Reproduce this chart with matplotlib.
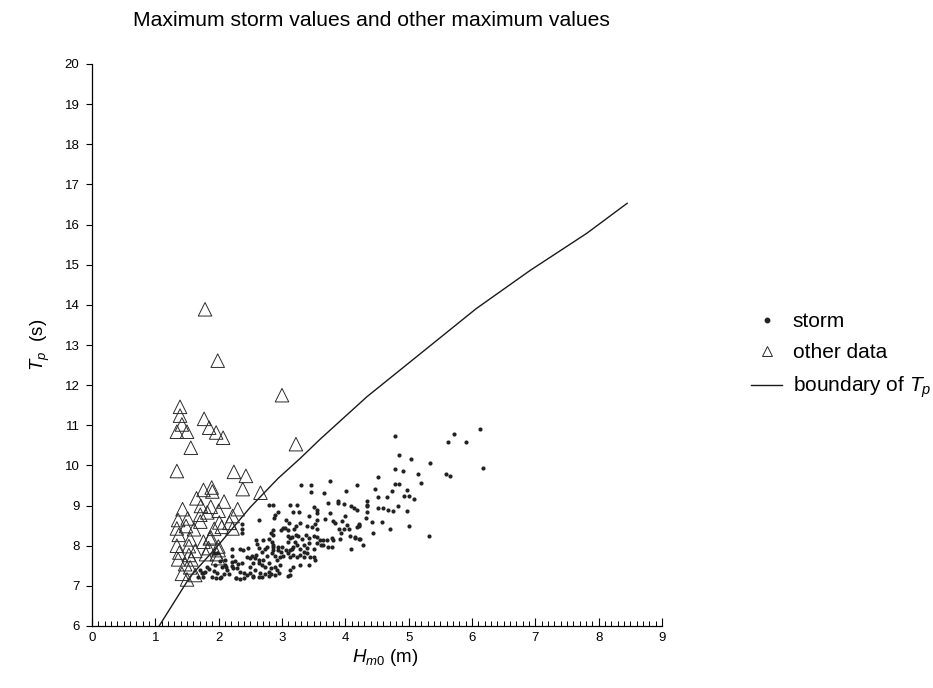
import matplotlib
matplotlib.use("Agg")
import matplotlib.pyplot as plt
from matplotlib.lines import Line2D
from matplotlib.ticker import MultipleLocator

plt.rcParams['font.family'] = ['Liberation Sans', 'DejaVu Sans']
plt.rcParams['mathtext.fontset'] = 'custom'
plt.rcParams['mathtext.it'] = 'Liberation Sans:italic'
plt.rcParams['mathtext.rm'] = 'Liberation Sans'

# storm maxima: significant wave height Hm0 (m) and peak period Tp (s)
storm_hm0 = [
    4.79, 5.71, 5.62, 5.90, 6.13, 6.17, 4.85, 5.03, 5.34, 5.59, 5.66, 4.79, 4.91, 5.14, 5.20,
    4.52, 4.18, 3.76, 3.30, 3.46, 3.46, 3.665, 4.79, 4.84, 4.47, 4.01, 4.73, 4.97, 4.92, 5.00,
    5.09, 4.65, 4.51, 4.34, 3.88, 3.72, 3.88, 3.98, 4.09, 4.13, 4.18, 4.34, 4.51, 4.59, 4.67,
    4.76, 4.83, 4.97, 4.34, 3.50, 3.55, 3.56, 2.80, 2.86, 2.93, 2.89, 2.88, 3.13, 3.24, 3.18,
    3.27, 3.42, 3.76, 3.68, 3.81, 3.84, 3.94, 4.00, 4.03, 3.98, 4.06, 3.90, 3.93, 4.22, 4.18,
    4.33, 4.42, 4.58, 4.71, 4.44, 5.00, 5.32, 2.63, 2.37, 2.37, 2.37, 2.82, 2.99, 3.05, 3.09,
    3.19, 3.29, 3.22, 3.39, 3.52, 3.55, 3.09, 3.15, 3.22, 3.26, 3.38, 3.42, 3.50, 3.55, 3.60,
    3.65, 3.71, 3.79, 3.81, 3.92, 4.08, 4.15, 4.23, 4.28, 4.09, 3.65, 3.73, 3.79, 3.55, 3.61,
    3.43, 3.40, 3.50, 3.31, 3.34, 3.29, 3.34, 3.20, 3.23, 3.18, 3.15, 3.12, 3.06, 3.09, 3.13,
    2.93, 2.93, 2.86, 2.86, 3.00, 2.99, 2.76, 2.84, 2.79, 2.59, 2.60, 2.70, 2.21, 2.33, 2.39,
    2.47, 2.63, 2.73, 2.59, 2.68, 2.76, 2.84, 2.89, 2.92, 2.97, 3.02, 3.09, 3.12, 3.18, 3.24,
    3.29, 3.34, 3.39, 3.44, 3.51, 3.52, 3.42, 3.29, 3.18, 3.12, 3.13, 3.09, 2.97, 2.89, 2.92,
    2.96, 2.89, 2.83, 2.79, 2.82, 2.73, 2.68, 2.63, 2.55, 2.50, 2.52, 2.44, 2.58, 2.63, 2.70,
    2.50, 2.58, 2.65, 2.73, 2.80, 2.63, 2.68, 2.55, 2.34, 2.27, 2.34, 2.44, 2.23, 2.31, 2.26,
    2.21, 2.10, 2.02, 2.05, 2.10, 2.21, 1.94, 1.92, 1.97, 1.84, 1.76, 1.89, 1.96, 2.03, 2.09,
    2.17, 2.13, 1.93, 1.97, 1.785, 1.73, 1.71, 2.28, 2.40, 2.49, 2.54, 2.79, 4.22, 4.21, 4.15,
    4.22, 4.35, 3.07, 3.55, 3.47, 2.86, 2.86, 2.86, 2.21, 2.12, 2.29, 2.37, 2.40, 1.81, 1.68,
    1.75, 2.02, 3.02, 3.11,
]
storm_tp = [
    10.74, 10.78, 10.59, 10.59, 10.90, 9.93, 10.27, 10.16, 10.07, 9.79, 9.74, 9.90, 9.85, 9.79, 9.57,
    9.70, 9.51, 9.61, 9.52, 9.52, 9.34, 9.31, 9.54, 9.54, 9.41, 9.36, 9.37, 9.39, 9.24, 9.24,
    9.16, 9.22, 9.21, 9.12, 9.12, 9.07, 9.06, 9.04, 9.00, 8.95, 8.89, 9.01, 8.93, 8.95, 8.89,
    8.87, 8.99, 8.87, 8.85, 8.97, 8.89, 8.81, 9.01, 9.01, 8.85, 8.77, 8.68, 9.01, 9.01, 8.85,
    8.83, 8.75, 8.81, 8.67, 8.62, 8.56, 8.62, 8.75, 8.52, 8.42, 8.42, 8.42, 8.31, 8.52, 8.46,
    8.70, 8.60, 8.60, 8.41, 8.32, 8.49, 8.24, 8.64, 8.54, 8.41, 8.31, 8.31, 8.39, 8.43, 8.38,
    8.41, 8.56, 8.49, 8.48, 8.54, 8.42, 8.24, 8.21, 8.27, 8.24, 8.27, 8.18, 8.24, 8.21, 8.14,
    8.13, 8.14, 8.18, 8.13, 8.16, 8.24, 8.18, 8.16, 8.02, 7.91, 8.02, 7.98, 7.98, 8.06, 8.02,
    8.06, 7.94, 7.91, 8.16, 8.02, 7.91, 7.85, 8.10, 8.02, 7.98, 7.91, 7.89, 7.89, 8.10, 8.18,
    7.98, 7.89, 7.98, 7.89, 7.96, 7.85, 7.98, 8.10, 8.16, 8.13, 8.04, 8.14, 7.92, 7.92, 7.89,
    7.95, 7.94, 7.91, 7.77, 7.85, 7.74, 7.81, 7.74, 7.64, 7.71, 7.74, 7.81, 7.73, 7.77, 7.71,
    7.77, 7.73, 7.81, 7.71, 7.73, 7.64, 7.52, 7.52, 7.48, 7.40, 7.27, 7.25, 7.52, 7.48, 7.40,
    7.33, 7.27, 7.30, 7.56, 7.44, 7.48, 7.52, 7.56, 7.56, 7.69, 7.74, 7.71, 7.70, 7.64, 7.64,
    7.46, 7.40, 7.33, 7.30, 7.35, 7.21, 7.21, 7.23, 7.35, 7.19, 7.16, 7.27, 7.44, 7.54, 7.63,
    7.60, 7.64, 7.63, 7.48, 7.52, 7.49, 7.52, 7.38, 7.33, 7.41, 7.33, 7.21, 7.19, 7.23, 7.30,
    7.30, 7.40, 7.82, 7.83, 7.35, 7.31, 7.40, 7.19, 7.19, 7.31, 7.25, 7.25, 8.54, 8.49, 8.21,
    8.16, 8.99, 8.64, 8.64, 8.47, 8.39, 8.27, 8.02, 7.74, 7.46, 7.44, 7.56, 7.31, 7.48, 7.23,
    7.23, 7.19, 8.43, 8.56,
]

# other maxima
other_hm0 = [
    1.785, 1.985, 3.00, 1.39, 1.39, 1.42, 1.34, 1.50, 1.77, 1.85, 1.96, 2.07, 1.56, 3.22, 1.34,
    2.24, 2.43, 2.38, 2.66, 1.76, 1.89, 1.90, 1.65, 1.72, 1.43, 1.875, 2.085, 2.00, 2.30, 1.82,
    1.71, 2.22, 1.51, 1.36, 1.71, 2.01, 2.17, 1.485, 1.34, 1.61, 1.93, 2.05, 2.22, 1.37, 1.55,
    1.76, 1.86, 1.34, 1.53, 1.995, 1.84, 1.38, 1.63, 1.53, 1.80, 1.97, 1.36, 1.57, 1.47, 1.55,
    1.42, 1.63, 1.50, 1.875, 2.00, 1.99,
]
other_tp = [
    13.89, 12.61, 11.75, 11.46, 11.24, 11.02, 10.84, 10.84, 11.16, 10.94, 10.82, 10.69, 10.44, 10.53, 9.86,
    9.84, 9.74, 9.41, 9.32, 9.39, 9.45, 9.35, 9.18, 8.99, 8.91, 8.97, 9.10, 8.87, 8.91, 8.83,
    8.77, 8.74, 8.68, 8.64, 8.60, 8.58, 8.57, 8.49, 8.43, 8.41, 8.42, 8.47, 8.43, 8.27, 8.16,
    8.10, 8.18, 8.00, 7.99, 7.98, 7.94, 7.83, 7.87, 7.77, 7.79, 7.79, 7.66, 7.66, 7.54, 7.46,
    7.30, 7.27, 7.16, 8.21, 7.89, 7.69,
]

# boundary of Tp
boundary_hm0 = [1.06, 1.55, 2.02, 2.50, 2.94, 3.29, 3.60, 4.34, 5.26, 6.07, 6.92, 7.81, 8.45]
boundary_tp = [6.00, 7.23, 8.06, 8.96, 9.68, 10.18, 10.65, 11.71, 12.88, 13.91, 14.86, 15.78, 16.53]

x_ticks = list(range(0, 10))
y_ticks = list(range(6, 21))

fig = plt.figure(figsize=(9.33, 6.88), dpi=100)
ax = fig.add_axes([92 / 933, 1 - 626 / 688, (662 - 92) / 933, (626 - 64) / 688])

ax.plot(boundary_hm0, boundary_tp, color='#1a1a1a', lw=1.0, zorder=2)
ax.scatter(other_hm0, other_tp, marker='^', s=95, facecolors='none',
           edgecolors='#2b2b2b', linewidths=0.7, zorder=3)
ax.scatter(storm_hm0, storm_tp, marker='o', s=9, color='#222222', linewidths=0, zorder=4)

ax.set_xlim(0, 9)
ax.set_ylim(6, 20)
ax.set_xticks(x_ticks)
ax.set_yticks(y_ticks)
ax.xaxis.set_minor_locator(MultipleLocator(0.1))
ax.tick_params(axis='x', which='major', direction='in', length=6, width=0.8, labelsize=9.5, pad=4)
ax.tick_params(axis='x', which='minor', direction='in', length=3.5, width=0.7)
ax.tick_params(axis='y', which='major', direction='out', length=4, width=0.8, labelsize=9.5, pad=5)
for side in ('top', 'right'):
    ax.spines[side].set_visible(False)
for side in ('left', 'bottom'):
    ax.spines[side].set_linewidth(0.9)

fig.text(371 / 933, 1 - 20 / 688, 'Maximum storm values and other maximum values',
         ha='center', va='center', fontsize=15.2)
fig.text(385 / 933, 1 - 657 / 688, r'$H_{m0}$ (m)', ha='center', va='center', fontsize=13.5)
fig.text(40 / 933, 1 - 345 / 688, r'$T_p$  (s)', ha='center', va='center',
         rotation=90, fontsize=13.5)

handles = [
    Line2D([], [], ls='none', marker='o', ms=3.2, color='#222222'),
    Line2D([], [], ls='none', marker='^', ms=7.5, mfc='none', mec='#2b2b2b', mew=0.7),
    Line2D([], [], color='#1a1a1a', lw=1.0),
]
labels = ['storm', 'other data', r'boundary of $T_p$']
fig.legend(handles, labels, loc='upper left', bbox_to_anchor=(751 / 933, 1 - 312 / 688),
           frameon=False, fontsize=15, handlelength=1.5, handletextpad=0.5,
           labelspacing=0.6, borderpad=0, borderaxespad=0)

fig.savefig('out.png', dpi=100)
